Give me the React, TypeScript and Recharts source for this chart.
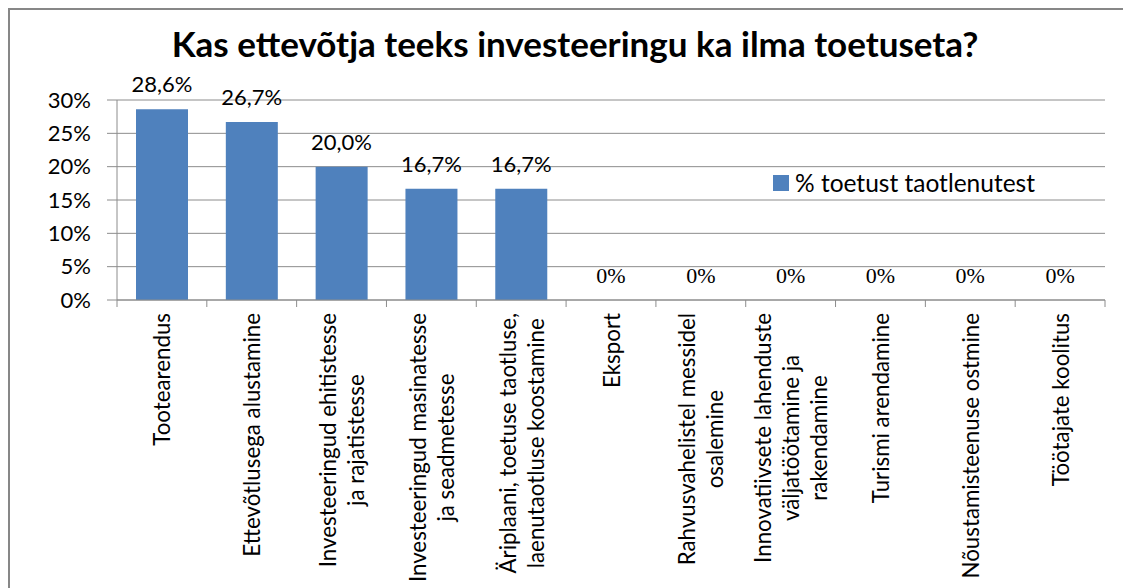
import { Bar, ComposedChart, CartesianGrid, LabelList, Legend, Line, XAxis, YAxis } from "recharts";

const title = "Kas ettevõtja teeks investeeringu ka ilma toetuseta?";
const seriesName = "% toetust taotlenutest";

// category labels, "\n" = line break as wrapped in the original
const categories = [
  "Tootearendus",
  "Ettevõtlusega alustamine",
  "Investeeringud ehitistesse\nja rajatistesse",
  "Investeeringud masinatesse\nja seadmetesse",
  "Äriplaani, toetuse taotluse,\nlaenutaotluse koostamine",
  "Eksport",
  "Rahvusvahelistel messidel\nosalemine",
  "Innovatiivsete lahenduste\nväljatöötamine ja\nrakendamine",
  "Turismi arendamine",
  "Nõustamisteenuse ostmine",
  "Töötajate koolitus",
];
const values = [28.6, 26.7, 20.0, 16.7, 16.7, 0, 0, 0, 0, 0, 0];
const yTicks = [0, 5, 10, 15, 20, 25, 30];

const data = categories.map((category, i) => ({ category, value: values[i] }));

const BLUE = "#4F81BD";
const GRID = "#8c8c8c";
const SANS = "Lato, 'Liberation Sans', sans-serif";
const SERIF = "'Liberation Serif', 'Times New Roman', serif";

const CHART_W = 1121;
const CHART_H = 578;
const MARGIN = { top: 90, right: 26, bottom: 8, left: 7 };
const Y_AXIS_W = 100;
const PLOT_W = CHART_W - MARGIN.left - MARGIN.right - Y_AXIS_W;
const X_TICK_SIZE = 7;
const CAT_FONT = 22.3;
const CAT_LINE = 28;

let measureCtx: CanvasRenderingContext2D | null = null;
function textWidth(s: string, font: string) {
  if (!measureCtx) measureCtx = document.createElement("canvas").getContext("2d");
  if (!measureCtx) return s.length * 10;
  measureCtx.font = font;
  return measureCtx.measureText(s).width;
}

function CategoryTick(props: any) {
  const { x, y, payload, index } = props;
  const axisY = y - X_TICK_SIZE;
  const band = PLOT_W / categories.length;
  const lines = String(payload.value).split("\n");
  const maxW = Math.max(...lines.map((l) => textWidth(l, `${CAT_FONT}px Lato`)));
  const top = axisY + 13;
  return (
    <g>
      <line x1={x - band / 2} y1={axisY} x2={x - band / 2} y2={axisY + X_TICK_SIZE} stroke={GRID} />
      {index === categories.length - 1 && (
        <line x1={x + band / 2} y1={axisY} x2={x + band / 2} y2={axisY + X_TICK_SIZE} stroke={GRID} />
      )}
      <g transform={`translate(${x},${top}) rotate(-90)`}>
        {lines.map((line, i) => (
          <text
            key={i}
            x={-maxW / 2}
            y={(i - (lines.length - 1) / 2) * CAT_LINE}
            textAnchor="middle"
            dominantBaseline="central"
            fontSize={CAT_FONT}
            fontFamily={SANS}
            fill="#000"
          >
            {line}
          </text>
        ))}
      </g>
    </g>
  );
}

// value labels sit 17px above the top of each bar (zero values drawn in serif, as in the original)
function ValueLabel(props: any) {
  const { x, y, value } = props;
  const zero = Number(value) === 0;
  return (
    <text
      x={Number(x)}
      y={Number(y) - 17}
      textAnchor="middle"
      fontSize={22}
      fontFamily={zero ? SERIF : SANS}
      fill="#000"
    >
      {zero ? "0%" : `${Number(value).toFixed(1).replace(".", ",")}%`}
    </text>
  );
}

function LegendContent() {
  return (
    <div style={{ display: "flex", alignItems: "center", fontFamily: SANS, fontSize: 24.5, color: "#000", whiteSpace: "nowrap" }}>
      <span style={{ width: 16, height: 16, background: BLUE, marginRight: 6, display: "inline-block" }} />
      <span>{seriesName}</span>
    </div>
  );
}

export default function App() {
  return (
    <div
      style={{
        position: "relative",
        width: CHART_W,
        height: CHART_H,
        borderTop: "2px solid #878787",
        borderLeft: "2px solid #878787",
        background: "#fff",
      }}
    >
      <div
        style={{
          position: "absolute",
          top: 16,
          left: 0,
          width: 1130,
          textAlign: "center",
          fontFamily: SANS,
          fontWeight: 700,
          fontSize: 35,
          lineHeight: "35px",
          color: "#000",
          zIndex: 1,
          whiteSpace: "nowrap",
        }}
      >
        {title}
      </div>
      <ComposedChart width={CHART_W} height={CHART_H} data={data} margin={MARGIN}>
        <CartesianGrid vertical={false} stroke={GRID} />
        <XAxis
          dataKey="category"
          interval={0}
          height={280}
          axisLine={{ stroke: GRID }}
          tickLine={false}
          tickSize={X_TICK_SIZE}
          tickMargin={0}
          tick={<CategoryTick />}
        />
        <YAxis
          width={Y_AXIS_W}
          domain={[0, 30]}
          ticks={yTicks}
          interval={0}
          tickFormatter={(v: number) => `${v}%`}
          axisLine={{ stroke: GRID }}
          tickLine={{ stroke: GRID }}
          tickSize={10}
          tickMargin={16}
          tick={{ fontSize: 22, fontFamily: SANS, fill: "#000" }}
        />
        <Legend
          layout="vertical"
          align="center"
          verticalAlign="middle"
          content={<LegendContent />}
          wrapperStyle={{ position: "absolute", left: 763, top: 158, width: "auto", height: "auto" }}
        />
        <Bar dataKey="value" name={seriesName} fill={BLUE} barSize={52} isAnimationActive={false} />
        <Line
          dataKey="value"
          stroke="none"
          dot={false}
          activeDot={false}
          legendType="none"
          isAnimationActive={false}
        >
          <LabelList dataKey="value" content={<ValueLabel />} />
        </Line>
      </ComposedChart>
    </div>
  );
}
